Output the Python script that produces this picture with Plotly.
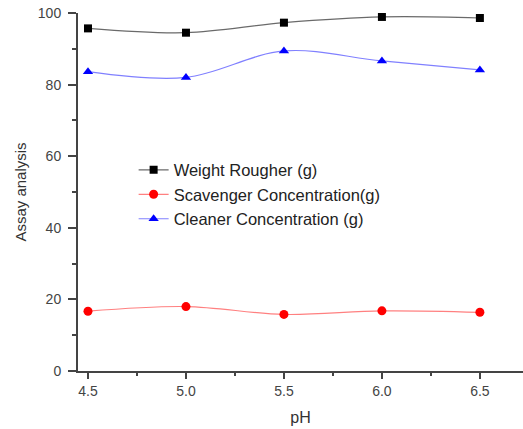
import plotly.graph_objects as go

ph = [4.5, 5.0, 5.5, 6.0, 6.5]
weight_rougher = [95.7, 94.5, 97.3, 98.9, 98.6]
scavenger_conc = [16.7, 18.0, 15.8, 16.8, 16.4]
cleaner_conc = [83.6, 82.0, 89.4, 86.6, 84.1]

x_ticks = [4.5, 5.0, 5.5, 6.0, 6.5]
x_tick_labels = ["4.5", "5.0", "5.5", "6.0", "6.5"]
y_ticks = [0, 20, 40, 60, 80, 100]

fig = go.Figure()
series = [
    ("Weight Rougher (g)", weight_rougher, "#000000", "#6a6a6a", "square", 8),
    ("Scavenger Concentration(g)", scavenger_conc, "#ff0000", "#ff8080", "circle", 9),
    ("Cleaner Concentration (g)", cleaner_conc, "#0000ff", "#8080ff", "triangle-up", 9),
]
for name, vals, mcol, lcol, sym, sz in series:
    fig.add_trace(go.Scatter(
        x=ph, y=vals, name=name, mode="lines+markers",
        line=dict(color=lcol, width=1.2, shape="spline", smoothing=1.0),
        marker=dict(color=mcol, size=sz, symbol=sym),
    ))

axis_font = dict(family="Liberation Sans, Arial", size=14, color="#444444")
fig.update_layout(
    width=523, height=429,
    margin=dict(l=78, r=0, t=13, b=58, autoexpand=False),
    paper_bgcolor="white", plot_bgcolor="white",
    font=dict(family="Liberation Sans, Arial", size=16, color="#222222"),
    showlegend=True,
    legend=dict(x=0.125, y=0.61, xanchor="left", yanchor="top",
                bgcolor="rgba(0,0,0,0)", font=dict(size=16.5, color="#222222"),
                tracegroupgap=0, itemwidth=30),
    xaxis=dict(
        range=[4.449, 6.72], tickvals=x_ticks, ticktext=x_tick_labels, automargin=False,
        showgrid=False, zeroline=False, showline=True, linecolor="#444444", linewidth=2,
        ticks="outside", ticklen=6, tickwidth=2, tickcolor="#444444", tickfont=axis_font,
        ticklabeloverflow="allow",
        minor=dict(tickvals=[4.75, 5.25, 5.75, 6.25], ticks="outside", ticklen=3, tickwidth=2, tickcolor="#444444"),
        title=dict(text="pH", font=dict(size=16, color="#333333"), standoff=14),
    ),
    yaxis=dict(
        range=[0, 100], tickvals=y_ticks, automargin=False,
        showgrid=False, zeroline=False, showline=True, linecolor="#444444", linewidth=2,
        ticks="outside", ticklen=8, tickwidth=2, tickcolor="#444444", tickfont=axis_font,
        ticklabeloverflow="allow", ticklabelstandoff=4,
        minor=dict(tickvals=[10, 30, 50, 70, 90], ticks="outside", ticklen=4, tickwidth=2, tickcolor="#444444"),
        title=dict(text="Assay analysis", font=dict(size=15, color="#333333"), standoff=8),
    ),
)

fig.write_html("out.html", config={"displayModeBar": False},
               post_script="document.body.style.margin='0';")
